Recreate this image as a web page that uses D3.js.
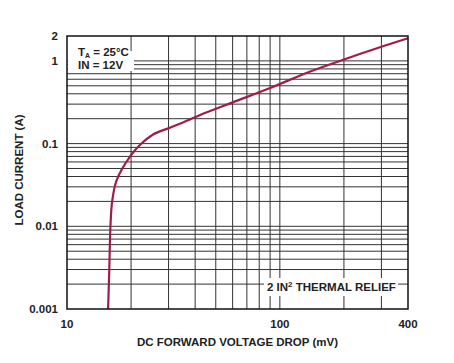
<!DOCTYPE html>
<html>
<head>
<meta charset="utf-8">
<script src="https://cdn.jsdelivr.net/npm/d3@7"></script>
<style>
  body { margin: 0; background: #fff; }
  text { font-family: "Liberation Sans", Arial, sans-serif; font-weight: bold; fill: #222; }
</style>
</head>
<body>
<svg id="chart" width="454" height="363"></svg>
<script>
// curve: forward voltage (mV) vs load current (A)
const voltage = [15.6, 15.8, 16.0, 16.3, 17.1, 19.8, 22.0, 25.4, 30.5, 37.8, 42.2, 60, 90, 138, 200, 300, 400];
const current = [0.001, 0.003, 0.01, 0.02, 0.036, 0.07, 0.096, 0.129, 0.156, 0.196, 0.222, 0.315, 0.47, 0.74, 1.04, 1.48, 1.88];

const xTicks = [10, 100, 400];
const yTicks = [0.001, 0.01, 0.1, 1, 2];
const yTickLabels = ['0.001', '0.01', '0.1', '1', '2'];

const xGrid = [20, 30, 40, 50, 60, 70, 80, 90, 100, 200, 300];
const yGrid = [];
[0.001, 0.01, 0.1].forEach(d => { for (let k = 2; k <= 9; k++) yGrid.push(d * k); });
yGrid.push(0.01, 0.1, 1);

const m = {left: 67, right: 408, top: 36, bottom: 309};
const fs = '11.5px';
const svg = d3.select('#chart');

const x = d3.scaleLog().domain([10, 400]).range([m.left, m.right]);
const y = d3.scaleLog().domain([0.001, 2]).range([m.bottom, m.top]);

// grid
svg.append('g').selectAll('line').data(xGrid).join('line')
  .attr('x1', d => x(d)).attr('x2', d => x(d))
  .attr('y1', m.top).attr('y2', m.bottom)
  .attr('stroke', '#333').attr('stroke-width', 1);
svg.append('g').selectAll('line').data(yGrid).join('line')
  .attr('x1', m.left).attr('x2', m.right)
  .attr('y1', d => y(d)).attr('y2', d => y(d))
  .attr('stroke', '#333').attr('stroke-width', 1);

// curve
const line = d3.line()
  .x((d, i) => x(voltage[i]))
  .y(d => y(d))
  .curve(d3.curveCatmullRom.alpha(0.5));
svg.append('path')
  .datum(current)
  .attr('d', line)
  .attr('fill', 'none')
  .attr('stroke', '#a01c4e')
  .attr('stroke-width', 2.2);

// label boxes
svg.append('rect').attr('x', m.left + 1).attr('y', 51).attr('width', 66).attr('height', 20).attr('fill', '#fff');
const t1 = svg.append('text').attr('x', 78).attr('y', 56).style('font-size', fs);
t1.append('tspan').text('T');
t1.append('tspan').text('A').attr('dy', 1.5).style('font-size', '7px');
t1.append('tspan').text(' = 25°C').attr('dy', -1.5);
svg.append('text').attr('x', 78).attr('y', 68.5).style('font-size', fs).text('IN = 12V');

svg.append('rect').attr('x', 264).attr('y', 278).attr('width', 134).attr('height', 18).attr('fill', '#fff');
const t2 = svg.append('text').attr('x', 267).attr('y', 291).style('font-size', fs);
t2.append('tspan').text('2 IN');
t2.append('tspan').text('2').attr('dy', -4).style('font-size', '8px');
t2.append('tspan').text(' THERMAL RELIEF').attr('dy', 4);

// frame
svg.append('rect')
  .attr('x', m.left).attr('y', m.top)
  .attr('width', m.right - m.left).attr('height', m.bottom - m.top)
  .attr('fill', 'none').attr('stroke', '#111').attr('stroke-width', 1.5);

// tick labels
svg.append('g').selectAll('text').data(yTicks).join('text')
  .attr('x', 58).attr('y', d => y(d) + 4)
  .attr('text-anchor', 'end').style('font-size', fs)
  .text((d, i) => yTickLabels[i]);
svg.append('g').selectAll('text').data(xTicks).join('text')
  .attr('x', d => x(d)).attr('y', 328)
  .attr('text-anchor', 'middle').style('font-size', fs)
  .text(d => d);

// axis titles
svg.append('text').attr('x', (m.left + m.right) / 2).attr('y', 346)
  .attr('text-anchor', 'middle').style('font-size', fs)
  .text('DC FORWARD VOLTAGE DROP (mV)');
svg.append('text')
  .attr('transform', `translate(23,170) rotate(-90)`)
  .attr('text-anchor', 'middle').style('font-size', fs)
  .text('LOAD CURRENT (A)');
</script>
</body>
</html>
